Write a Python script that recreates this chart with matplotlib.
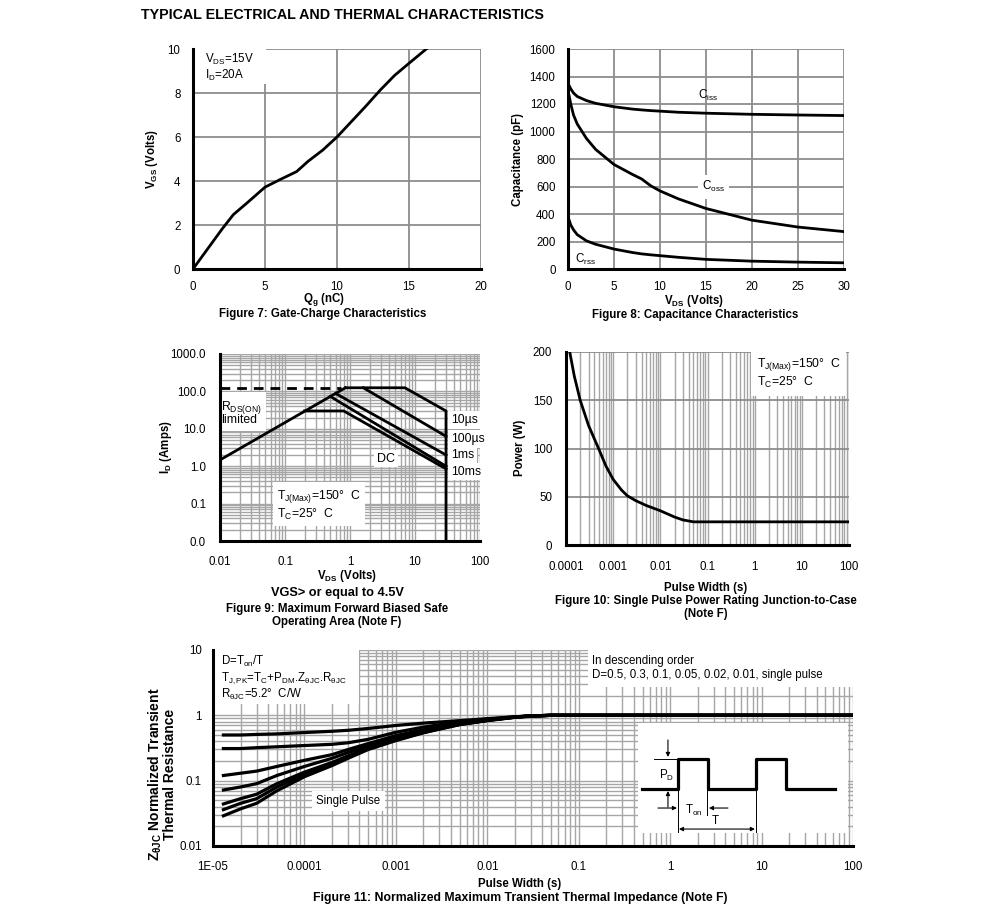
import matplotlib
matplotlib.use("Agg")
import matplotlib.pyplot as plt
from matplotlib.patches import Rectangle
from matplotlib.ticker import FuncFormatter, LogLocator, MultipleLocator, NullFormatter

plt.rcParams['font.family'] = ['Liberation Sans', 'DejaVu Sans']
plt.rcParams['mathtext.fontset'] = 'custom'
plt.rcParams['mathtext.rm'] = 'Liberation Sans'
plt.rcParams['mathtext.it'] = 'Liberation Sans:italic'
plt.rcParams['mathtext.bf'] = 'Liberation Sans:bold'

W, H = 991, 906

# Figure 7: gate charge
qg = [0, 1, 2, 2.8, 3.8, 5, 6, 7.2, 8, 9, 10, 11, 12, 13, 14, 15, 16.2]
vgs = [0, 0.9, 1.8, 2.47, 3.03, 3.72, 4.05, 4.43, 4.9, 5.4, 6.0, 6.7, 7.4, 8.13, 8.8, 9.35, 10.0]

# Figure 8: capacitance
vds_c = [0, 0.3, 0.6, 1, 2, 3, 5, 7, 8, 9, 10, 12, 15, 20, 25, 30]
ciss = [1350, 1310, 1280, 1255, 1225, 1205, 1180, 1163, 1157, 1152, 1148, 1140, 1133, 1125, 1120, 1116]
coss = [1300, 1200, 1120, 1055, 950, 870, 760, 688, 655, 605, 568, 510, 440, 355, 305, 272]
crss = [380, 320, 285, 250, 205, 180, 145, 120, 110, 103, 97, 85, 70, 57, 50, 45]

# Figure 9: safe operating area segments (V, A)
soa_rds_v = [0.01, 0.85]
soa_rds_i = [1.47, 125]
soa_dash_v = [0.01, 0.72]
soa_dash_i = [125, 125]
soa_10us_v = [0.85, 7, 30, 30]
soa_10us_i = [125, 125, 30, 0.01]
soa_100us_v = [1.6, 30]
soa_100us_i = [125, 6.3]
soa_1ms_v = [0.6, 30]
soa_1ms_i = [88, 2.0]
soa_10ms_v = [0.5, 30]
soa_10ms_i = [73, 1.0]
soa_dc_v = [0.2, 0.8, 30]
soa_dc_i = [30, 30, 0.85]

# Figure 10: single pulse power
pw = [1.2e-4, 1.5e-4, 2e-4, 3e-4, 5e-4, 7e-4, 1e-3, 1.5e-3, 2e-3, 3e-3, 5e-3, 1e-2, 2e-2, 3e-2, 5e-2, 0.1, 1, 100]
pwr = [200, 175, 150, 124, 99, 82, 68, 57, 51, 46, 41, 35.5, 29, 26, 24, 24, 24, 24]

# Figure 11: transient thermal impedance
tp = [1.3e-5, 2e-5, 3e-5, 5e-5, 1e-4, 2e-4, 3e-4, 5e-4, 1e-3, 2e-3, 3e-3, 5e-3, 1e-2, 2e-2, 3e-2, 5e-2, 100]
zth = {
    '0.5':    [0.50, 0.50, 0.51, 0.52, 0.545, 0.57, 0.59, 0.63, 0.70, 0.76, 0.79, 0.83, 0.89, 0.95, 0.98, 1.0, 1.0],
    '0.3':    [0.31, 0.31, 0.32, 0.33, 0.345, 0.36, 0.38, 0.43, 0.55, 0.66, 0.72, 0.79, 0.87, 0.95, 0.98, 1.0, 1.0],
    '0.1':    [0.12, 0.13, 0.14, 0.165, 0.205, 0.25, 0.30, 0.37, 0.49, 0.60, 0.66, 0.75, 0.85, 0.94, 0.98, 1.0, 1.0],
    '0.05':   [0.072, 0.08, 0.09, 0.12, 0.165, 0.22, 0.27, 0.34, 0.45, 0.57, 0.64, 0.74, 0.84, 0.94, 0.98, 1.0, 1.0],
    '0.02':   [0.044, 0.053, 0.062, 0.09, 0.135, 0.19, 0.24, 0.32, 0.43, 0.55, 0.63, 0.73, 0.84, 0.94, 0.98, 1.0, 1.0],
    '0.01':   [0.036, 0.045, 0.053, 0.08, 0.125, 0.18, 0.23, 0.31, 0.42, 0.545, 0.62, 0.725, 0.835, 0.935, 0.975, 1.0, 1.0],
    'single': [0.029, 0.037, 0.045, 0.07, 0.115, 0.17, 0.22, 0.30, 0.41, 0.54, 0.615, 0.72, 0.83, 0.93, 0.97, 1.0, 1.0],
}

# pulse sketch inside figure 11 (box pixel units)
wave_x = [4, 40, 40, 70, 70, 118, 118, 148, 148, 197]
wave_y = [66, 66, 36, 36, 66, 66, 36, 36, 66, 66]

fig = plt.figure(figsize=(W / 100, H / 100), dpi=100)
GRID = '#8c8c8c'
LOGGRID = '#a6a6a6'
LW = 2.0
TXT = 8.4


def pax(x0, y0, x1, y1):
    return fig.add_axes([x0 / W, 1 - y1 / H, (x1 - x0) / W, (y1 - y0) / H])


def style(ax, xpad, ypad):
    for s in ('top', 'right'):
        ax.spines[s].set_visible(False)
    for s in ('left', 'bottom'):
        ax.spines[s].set_linewidth(2.2)
        ax.spines[s].set_zorder(5)
    ax.tick_params(which='both', length=0, labelsize=8.3)
    ax.tick_params(axis='x', pad=xpad)
    ax.tick_params(axis='y', pad=ypad)
    ax.set_axisbelow(True)


def ftext(x, y, s, **kw):
    kw.setdefault('ha', 'center')
    kw.setdefault('va', 'center')
    fig.text(x / W, 1 - y / H, s, **kw)


def whitebox(ax, x0, y0, x1, y1):
    ax.add_patch(Rectangle((x0, y0), x1 - x0, y1 - y0, transform=ax.transAxes,
                           fc='white', ec='none', zorder=1.5))


fig.text(141 / W, 1 - 15 / H, 'TYPICAL ELECTRICAL AND THERMAL CHARACTERISTICS',
         fontsize=10.3, fontweight='bold', ha='left', va='center')

# ---- Figure 7
ax7 = pax(193, 49, 481, 269)
ax7.plot(qg, vgs, color='black', lw=LW, zorder=3)
ax7.set_xlim(0, 20)
ax7.set_ylim(0, 10)
ax7.xaxis.set_major_locator(MultipleLocator(5))
ax7.yaxis.set_major_locator(MultipleLocator(2))
ax7.grid(True, color=GRID, lw=1.3)
style(ax7, 8.5, 9)
whitebox(ax7, 0, 0.84, 0.255, 1.0)
ax7.text(0.8, 9.15, 'V$_{\\rm DS}$=15V\nI$_{\\rm D}$=20A', fontsize=TXT, va='center', ha='left',
         linespacing=1.1, zorder=4)
ftext(152, 159, 'V$_{\\mathbf{GS}}$ (Volts)', rotation=90, fontsize=8.3, fontweight='bold')
ftext(324, 300, 'Q$_{\\mathbf{g}}$ (nC)', fontsize=8.3, fontweight='bold')
ftext(323, 314, 'Figure 7: Gate-Charge Characteristics', fontsize=8.3, fontweight='bold')

# ---- Figure 8
ax8 = pax(568, 49, 844, 269)
ax8.plot(vds_c, ciss, color='black', lw=LW, zorder=3)
ax8.plot(vds_c, coss, color='black', lw=LW, zorder=3)
ax8.plot(vds_c, crss, color='black', lw=LW, zorder=3)
ax8.set_xlim(0, 30)
ax8.set_ylim(0, 1600)
ax8.xaxis.set_major_locator(MultipleLocator(5))
ax8.yaxis.set_major_locator(MultipleLocator(200))
ax8.grid(True, color=GRID, lw=1.3)
style(ax8, 8.5, 9)
ax8.text(14.1, 1265, 'C$_{\\rm iss}$', fontsize=TXT, va='center', ha='left', zorder=4)
ax8.text(14.6, 598, 'C$_{\\rm oss}$', fontsize=TXT, va='center', ha='left', zorder=4,
         bbox=dict(fc='white', ec='none', pad=3))
ax8.text(0.75, 72, 'C$_{\\rm rss}$', fontsize=TXT, va='center', ha='left', zorder=4)
ftext(518, 159, 'Capacitance (pF)', rotation=90, fontsize=8.3, fontweight='bold')
ftext(694, 301, 'V$_{\\mathbf{DS}}$ (Volts)', fontsize=8.3, fontweight='bold')
ftext(695, 315, 'Figure 8: Capacitance Characteristics', fontsize=8.3, fontweight='bold')

# ---- Figure 9
ax9 = pax(220, 354, 480, 541)
ax9.set_xscale('log')
ax9.set_yscale('log')
ax9.set_xlim(0.01, 100)
ax9.set_ylim(0.01, 1000)
ax9.grid(True, which='both', color=LOGGRID, lw=1.0)
ax9.xaxis.set_major_locator(LogLocator(10))
ax9.yaxis.set_major_locator(LogLocator(10))
ax9.xaxis.set_minor_formatter(NullFormatter())
ax9.yaxis.set_minor_formatter(NullFormatter())
ax9.xaxis.set_major_formatter(FuncFormatter(lambda v, p: f'{v:g}'))
ax9.yaxis.set_major_formatter(FuncFormatter(lambda v, p: f'{v:.1f}'))
style(ax9, 11, 10)
ax9.plot(soa_dash_v, soa_dash_i, color='black', lw=LW, ls=(0, (3.5, 2.5)), zorder=3)
for xs, ys in [(soa_rds_v, soa_rds_i), (soa_10us_v, soa_10us_i), (soa_100us_v, soa_100us_i),
               (soa_1ms_v, soa_1ms_i), (soa_10ms_v, soa_10ms_i), (soa_dc_v, soa_dc_i)]:
    ax9.plot(xs, ys, color='black', lw=LW, zorder=3)
wb = dict(fc='white', ec='none', pad=2)
ax9.text(36, 17, '10µs', fontsize=8.8, va='center', ha='left', zorder=4, bbox=wb)
ax9.text(36, 5.4, '100µs', fontsize=8.8, va='center', ha='left', zorder=4, bbox=wb)
ax9.text(36, 2.0, '1ms', fontsize=8.8, va='center', ha='left', zorder=4, bbox=wb)
ax9.text(36, 0.72, '10ms', fontsize=8.8, va='center', ha='left', zorder=4, bbox=wb)
ax9.text(2.6, 1.6, 'DC', fontsize=9, va='center', ha='left', zorder=4, bbox=wb)
ax9.text(0.0105, 27, 'R$_{\\rm DS(ON)}$\nlimited', fontsize=8.8, va='center', ha='left',
         linespacing=0.85, zorder=4, bbox=dict(fc='white', ec='none', pad=3))
ax9.text(0.075, 0.09, 'T$_{\\rm J(Max)}$=150°  C\nT$_{\\rm C}$=25°  C', fontsize=8.8, va='center',
         ha='left', linespacing=1.15, zorder=4, bbox=dict(fc='white', ec='none', pad=3))
ftext(166, 447, 'I$_{\\mathbf{D}}$ (Amps)', rotation=90, fontsize=8.3, fontweight='bold')
ftext(347, 576, 'V$_{\\mathbf{DS}}$ (Volts)', fontsize=8.3, fontweight='bold')
ftext(337, 593, 'VGS> or equal to 4.5V', fontsize=9.2, fontweight='bold')
ftext(337, 609, 'Figure 9: Maximum Forward Biased Safe', fontsize=8.3, fontweight='bold')
ftext(337, 622, 'Operating Area (Note F)', fontsize=8.3, fontweight='bold')

# ---- Figure 10
ax10 = pax(566, 352, 849, 545)
ax10.set_xscale('log')
ax10.set_xlim(1e-4, 100)
ax10.set_ylim(0, 200)
ax10.xaxis.set_major_locator(LogLocator(10))
ax10.xaxis.set_minor_formatter(NullFormatter())
ax10.xaxis.set_major_formatter(FuncFormatter(lambda v, p: f'{v:g}'))
ax10.yaxis.set_major_locator(MultipleLocator(50))
ax10.grid(True, which='both', axis='x', color=LOGGRID, lw=1.0)
ax10.grid(True, which='major', axis='y', color=GRID, lw=1.3)
style(ax10, 11.5, 10)
ax10.plot(pw, pwr, color='black', lw=LW, zorder=3)
ax10.text(1.1, 178, 'T$_{\\rm J(Max)}$=150°  C\nT$_{\\rm C}$=25°  C', fontsize=8.8, va='center',
          ha='left', linespacing=1.15, zorder=4, bbox=dict(fc='white', ec='none', pad=4))
ftext(520, 448, 'Power (W)', rotation=90, fontsize=8.3, fontweight='bold')
ftext(706, 588, 'Pulse Width (s)', fontsize=8.3, fontweight='bold')
ftext(706, 601, 'Figure 10: Single Pulse Power Rating Junction-to-Case', fontsize=8.3, fontweight='bold')
ftext(706, 614, '(Note F)', fontsize=8.3, fontweight='bold')

# ---- Figure 11
ax11 = pax(213, 650, 853, 846)
ax11.set_xscale('log')
ax11.set_yscale('log')
ax11.set_xlim(1e-5, 100)
ax11.set_ylim(0.01, 10)
ax11.xaxis.set_major_locator(LogLocator(10))
ax11.yaxis.set_major_locator(LogLocator(10))
ax11.xaxis.set_minor_formatter(NullFormatter())
ax11.yaxis.set_minor_formatter(NullFormatter())
ax11.xaxis.set_major_formatter(FuncFormatter(lambda v, p: f'{v:G}'))
ax11.yaxis.set_major_formatter(FuncFormatter(lambda v, p: f'{v:g}'))
ax11.grid(True, which='both', color=LOGGRID, lw=1.0)
style(ax11, 11, 8)
for key, vals in zth.items():
    ax11.plot(tp, vals, color='black', lw=2.3, zorder=3)
whitebox(ax11, 0, 0.724, 0.228, 1.0)
whitebox(ax11, 0.586, 0.811, 1.0, 1.0)
ax11.text(0.012, 0.944, 'D=T$_{\\rm on}$/T', transform=ax11.transAxes, fontsize=8.3,
          va='center', ha='left', zorder=4)
ax11.text(0.012, 0.857, 'T$_{\\rm J,PK}$=T$_{\\rm C}$+P$_{\\rm DM}$.Z$_{\\rm \\theta JC}$.R$_{\\rm \\theta JC}$',
          transform=ax11.transAxes, fontsize=8.3, va='center', ha='left', zorder=4)
ax11.text(0.012, 0.774, 'R$_{\\rm \\theta JC}$=5.2°  C/W', transform=ax11.transAxes, fontsize=8.3,
          va='center', ha='left', zorder=4)
ax11.text(0.592, 0.944, 'In descending order', transform=ax11.transAxes, fontsize=8.3,
          va='center', ha='left', zorder=4)
ax11.text(0.592, 0.872, 'D=0.5, 0.3, 0.1, 0.05, 0.02, 0.01, single pulse', transform=ax11.transAxes,
          fontsize=8.3, va='center', ha='left', zorder=4)
ax11.text(1.35e-4, 0.049, 'Single Pulse', fontsize=8.3, va='center', ha='left', zorder=4,
          bbox=dict(fc='white', ec='none', pad=3))

# inset pulse sketch
ins = ax11.inset_axes([0.664, 0.066, 0.328, 0.562])
ins.set_xlim(0, 210)
ins.set_ylim(110, 0)
ins.set_facecolor('white')
ins.set_xticks([])
ins.set_yticks([])
for s in ins.spines.values():
    s.set_visible(False)
ins.set_zorder(4)
ins.plot(wave_x, wave_y, color='black', lw=2.3)
ins.plot([16, 40], [36, 36], color='black', lw=0.7)
ins.plot([40, 40], [66, 110], color='black', lw=0.7)
ins.plot([69, 69], [66, 92], color='black', lw=0.7)
ins.plot([118, 118], [66, 110], color='black', lw=0.7)
arr = dict(arrowstyle='-|>', color='black', lw=0.8, mutation_scale=6, shrinkA=0, shrinkB=0)
ins.annotate('', xy=(30, 34), xytext=(30, 17), arrowprops=arr)
ins.annotate('', xy=(30, 68), xytext=(30, 84), arrowprops=arr)
ins.annotate('', xy=(39, 85), xytext=(20, 85), arrowprops=arr)
ins.annotate('', xy=(71, 85), xytext=(90, 85), arrowprops=arr)
ins.annotate('', xy=(117, 106), xytext=(41, 106),
             arrowprops=dict(arrowstyle='<|-|>', color='black', lw=0.8, mutation_scale=6,
                             shrinkA=0, shrinkB=0))
ins.text(29, 52, 'P$_{\\rm D}$', fontsize=8.3, ha='center', va='center')
ins.text(56, 87, 'T$_{\\rm on}$', fontsize=8.3, ha='center', va='center')
ins.text(77, 98, 'T', fontsize=8.3, ha='center', va='center')

ftext(162, 774, 'Z$_{\\mathbf{\\theta JC}}$ Normalized Transient\nThermal Resistance', rotation=90,
      fontsize=10, fontweight='bold', linespacing=0.95)
ftext(520, 884, 'Pulse Width (s)', fontsize=8.3, fontweight='bold')
ftext(520, 898, 'Figure 11: Normalized Maximum Transient Thermal Impedance (Note F)',
      fontsize=8.8, fontweight='bold')

fig.savefig('out.png', dpi=100, facecolor='white')
